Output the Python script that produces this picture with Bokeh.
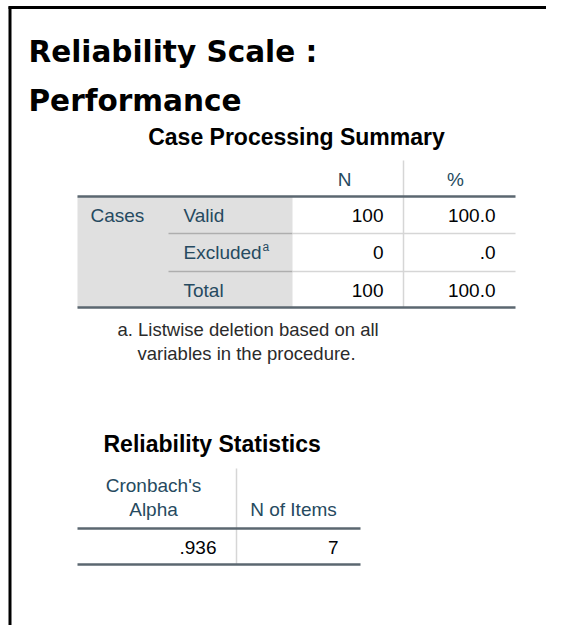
from bokeh.plotting import figure
from bokeh.models import Range1d
from bokeh.core.properties import value
from bokeh.embed import file_html
from bokeh.resources import INLINE

# ---- content ----
title_lines = ["Reliability Scale :", "Performance"]
summary_title = "Case Processing Summary"
summary_group = "Cases"
summary_cols = ["N", "%"]
summary_rows = ["Valid", "Excluded", "Total"]
summary_n = [100, 0, 100]
summary_pct = [100.0, 0.0, 100.0]
footnote_lines = ["a. Listwise deletion based on all", "variables in the procedure."]
stats_title = "Reliability Statistics"
stats_col1 = ["Cronbach's", "Alpha"]
stats_col2 = "N of Items"
cronbach_alpha = 0.936
n_items = 7


def spss(v, d):
    s = f"{v:.{d}f}"
    return s[1:] if s.startswith("0.") else s


LABEL = "#264A60"
DATA = "#010205"
THICK = "#5b6770"
THIN = "#d6d6d6"
SHADE = "#e0e0e0"
TFONT = value("Liberation Sans")
FS = "19px"

W, H = 546, 625
p = figure(width=W, height=H, x_range=Range1d(0, W), y_range=Range1d(H, 0),
           output_backend="svg", toolbar_location=None, min_border=0,
           x_axis_location=None, y_axis_location=None)
p.grid.visible = False
p.outline_line_color = None
p.background_fill_color = "white"
p.border_fill_color = "white"

# slide frame
p.segment(x0=[8, 9.5], y0=[7, 6], x1=[W, 9.5], y1=[7, H], line_width=3, line_color="black")

# big title
p.text(x=[28, 28], y=[51, 100], text=title_lines, text_font=value("DejaVu Sans"),
       text_font_style="bold", text_font_size="29.5px", text_color="black",
       text_align="left", text_baseline="middle")

# ---- Case Processing Summary ----
t1_left, t1_right, shade_right = 77, 515, 292
hdr_y = 179
row_top, row_bot = 196, 307
row_y = [215, 252, 290]
sep_y = [233, 271]
n_right, pct_right = 383, 495
col_sep_x = 403

p.text(x=[(t1_left + t1_right) / 2], y=[136], text=[summary_title], text_font=TFONT,
       text_font_style="bold", text_font_size="23px", text_color="black",
       text_align="center", text_baseline="middle")

p.quad(left=[t1_left], right=[shade_right], top=[row_top], bottom=[row_bot],
       fill_color=SHADE, line_color=None)
p.segment(x0=[col_sep_x], y0=[160], x1=[col_sep_x], y1=[row_bot], line_color=THIN, line_width=1.5)
p.segment(x0=[168] * 2, y0=sep_y, x1=[shade_right] * 2, y1=sep_y, line_color="#aeaeae", line_width=1.5)
p.segment(x0=[shade_right] * 2, y0=sep_y, x1=[t1_right] * 2, y1=sep_y, line_color=THIN, line_width=1.5)
p.segment(x0=[t1_left] * 2, y0=[row_top, row_bot], x1=[t1_right] * 2, y1=[row_top, row_bot],
          line_color=THICK, line_width=2.5)

p.text(x=[344, 455], y=[hdr_y] * 2, text=summary_cols, text_font=TFONT, text_font_size=FS,
       text_color=LABEL, text_align="center", text_baseline="middle")
p.text(x=[90], y=[row_y[0]], text=[summary_group], text_font=TFONT, text_font_size=FS,
       text_color=LABEL, text_align="left", text_baseline="middle")
p.text(x=[183] * 3, y=row_y, text=summary_rows, text_font=TFONT, text_font_size=FS,
       text_color=LABEL, text_align="left", text_baseline="middle")
p.text(x=[262], y=[row_y[1] - 6], text=["a"], text_font=TFONT, text_font_size="12px",
       text_color=LABEL, text_align="left", text_baseline="middle")
p.text(x=[n_right] * 3, y=row_y, text=[str(v) for v in summary_n], text_font=TFONT,
       text_font_size=FS, text_color=DATA, text_align="right", text_baseline="middle")
p.text(x=[pct_right] * 3, y=row_y, text=[spss(v, 1) for v in summary_pct], text_font=TFONT,
       text_font_size=FS, text_color=DATA, text_align="right", text_baseline="middle")

p.text(x=[117, 137], y=[329, 353], text=footnote_lines, text_font=TFONT, text_font_size="18.5px",
       text_color="#2b2b2b", text_align="left", text_baseline="middle")

# ---- Reliability Statistics ----
t2_left, t2_right = 77, 360
p.text(x=[103], y=[443], text=[stats_title], text_font=TFONT, text_font_style="bold",
       text_font_size="23px", text_color="black", text_align="left", text_baseline="middle")
p.segment(x0=[236], y0=[468], x1=[236], y1=[564], line_color=THIN, line_width=1.5)
p.segment(x0=[t2_left] * 2, y0=[528, 564], x1=[t2_right] * 2, y1=[528, 564],
          line_color=THICK, line_width=2.5)
p.text(x=[153, 153], y=[485, 509], text=stats_col1, text_font=TFONT, text_font_size=FS,
       text_color=LABEL, text_align="center", text_baseline="middle")
p.text(x=[293], y=[509], text=[stats_col2], text_font=TFONT, text_font_size=FS,
       text_color=LABEL, text_align="center", text_baseline="middle")
p.text(x=[216, 338], y=[547, 547], text=[spss(cronbach_alpha, 3), str(n_items)], text_font=TFONT,
       text_font_size=FS, text_color=DATA, text_align="right", text_baseline="middle")

open("out.html", "w").write(file_html(p, INLINE))
